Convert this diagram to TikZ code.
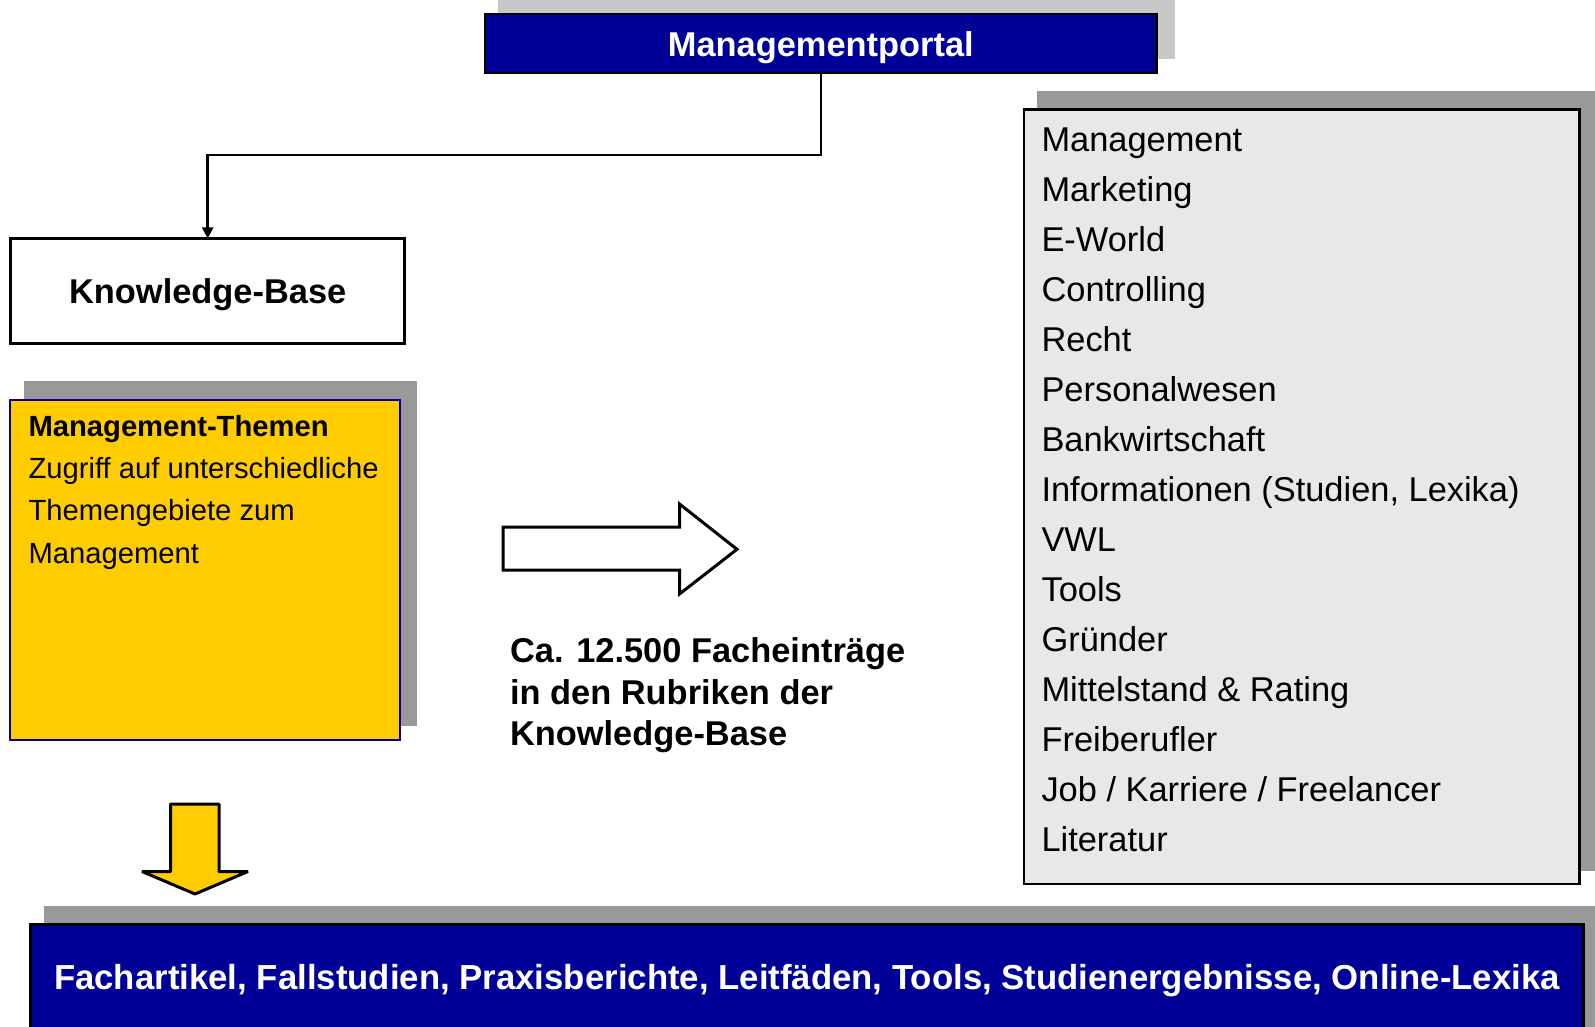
\documentclass[tikz,border=0pt]{standalone}
\usepackage{fontspec}
\setmainfont{Liberation Sans}
\usetikzlibrary{arrows.meta}
\definecolor{darkblue}{HTML}{000099}
\definecolor{boxyellow}{HTML}{FFCC00}
\definecolor{yborder}{HTML}{0000AA}
\definecolor{lightfill}{HTML}{E8E8E8}
\definecolor{shadowgray}{HTML}{999999}
\definecolor{shadowlight}{HTML}{C8C8C8}
\tikzset{
  plainbox/.style={rectangle, inner sep=0pt, outer sep=0pt},
  bigfont/.style={font=\fontsize{34.4}{40}\selectfont},
  bigbold/.style={font=\fontsize{34.4}{40}\selectfont\bfseries},
  barbold/.style={font=\fontsize{34.75}{40}\selectfont\bfseries},
  midfont/.style={font=\fontsize{29.2}{36}\selectfont},
  midbold/.style={font=\fontsize{29.2}{36}\selectfont\bfseries},
  conn/.style={draw=black, line width=2.5pt, -{Triangle[length=11pt,width=11pt]}},
  blockarrow/.style={draw=black, line width=3pt}
}
\begin{document}
\begin{tikzpicture}[x=1pt,y=-1pt]
\useasboundingbox (0,0) rectangle (1595,1027);
\clip (0,0) rectangle (1595,1027);
% shadows
\fill[shadowlight] (498,0) rectangle (1175,59);
\fill[shadowgray] (1037,90.7) rectangle (1600,870.7);
\fill[shadowgray] (24,381) rectangle (417.3,726);
\fill[shadowgray] (44.3,906) rectangle (1600,1060);
% boxes
\node[plainbox, draw=black, line width=2.5pt, fill=darkblue, minimum width=671.5pt, minimum height=58.8pt] (portal) at (820.8,43.4) {};
\node[bigbold, text=white, anchor=base] (portaltext) at (820.8,56.7) {Managementportal};
\node[plainbox, draw=black, line width=3pt, fill=white, minimum width=393.7pt, minimum height=105.1pt] (kb) at (207.7,291) {};
\node[bigbold, anchor=base] (kbtext) at (207.7,303.8) {Knowledge-Base};
\node[plainbox, draw=yborder, line width=2pt, fill=boxyellow, minimum width=389.4pt, minimum height=340pt] (themen) at (205,570) {};
\node[midbold, anchor=base west] (th1) at (25,436.4) {Management-Themen};
\node[midfont, anchor=base west] (th2) at (25,478.6) {Zugriff auf unterschiedliche};
\node[midfont, anchor=base west] (th3) at (25,520.9) {Themengebiete zum};
\node[midfont, anchor=base west] (th4) at (25,563.8) {Management};
\node[plainbox, draw=black, line width=2.5pt, fill=lightfill, minimum width=555.4pt, minimum height=774.3pt] (rubriken) at (1301.7,496.7) {};
\foreach \t [count=\i from 0] in {Management, Marketing, E-World, Controlling, Recht, Personalwesen, Bankwirtschaft, {Informationen (Studien, Lexika)}, VWL, Tools, Gründer, {Mittelstand \& Rating}, Freiberufler, {Job / Karriere / Freelancer}, Literatur}
  \node[bigfont, anchor=base west] (item\i) at (1038,{151.2+50*\i}) {\t};
\node[plainbox, draw=black, line width=2.5pt, fill=darkblue, minimum width=1552.7pt, minimum height=135.5pt] (bottom) at (806.9,992.3) {};
\node[barbold, text=white, anchor=base] (bottomtext) at (806.9,989) {Fachartikel, Fallstudien, Praxisberichte, Leitfäden, Tools, Studienergebnisse, Online-Lexika};
% center text
\node[bigbold, anchor=base west] (c1) at (506.5,662.5) {Ca. 12.500 Facheinträge};
\node[bigbold, anchor=base west] (c2) at (506.5,704.2) {in den Rubriken der};
\node[bigbold, anchor=base west] (c3) at (506.5,745.9) {Knowledge-Base};
% connector
\coordinate (bend) at (207.7,155);
\draw[conn] (portal.south) |- (bend) -- (kb.north);
% block arrows
\draw[blockarrow, line join=miter, fill=white] (503,527) -- (679.5,527) -- (679.5,504) -- (737,549.3) -- (679.5,594) -- (679.5,570) -- (503,570) -- cycle;
\draw[blockarrow, line join=bevel, fill=boxyellow] (170.5,804) -- (219,804) -- (219,871.5) -- (248,871.5) -- (195,894) -- (142,871.5) -- (170.5,871.5) -- cycle;
\end{tikzpicture}
\end{document}
